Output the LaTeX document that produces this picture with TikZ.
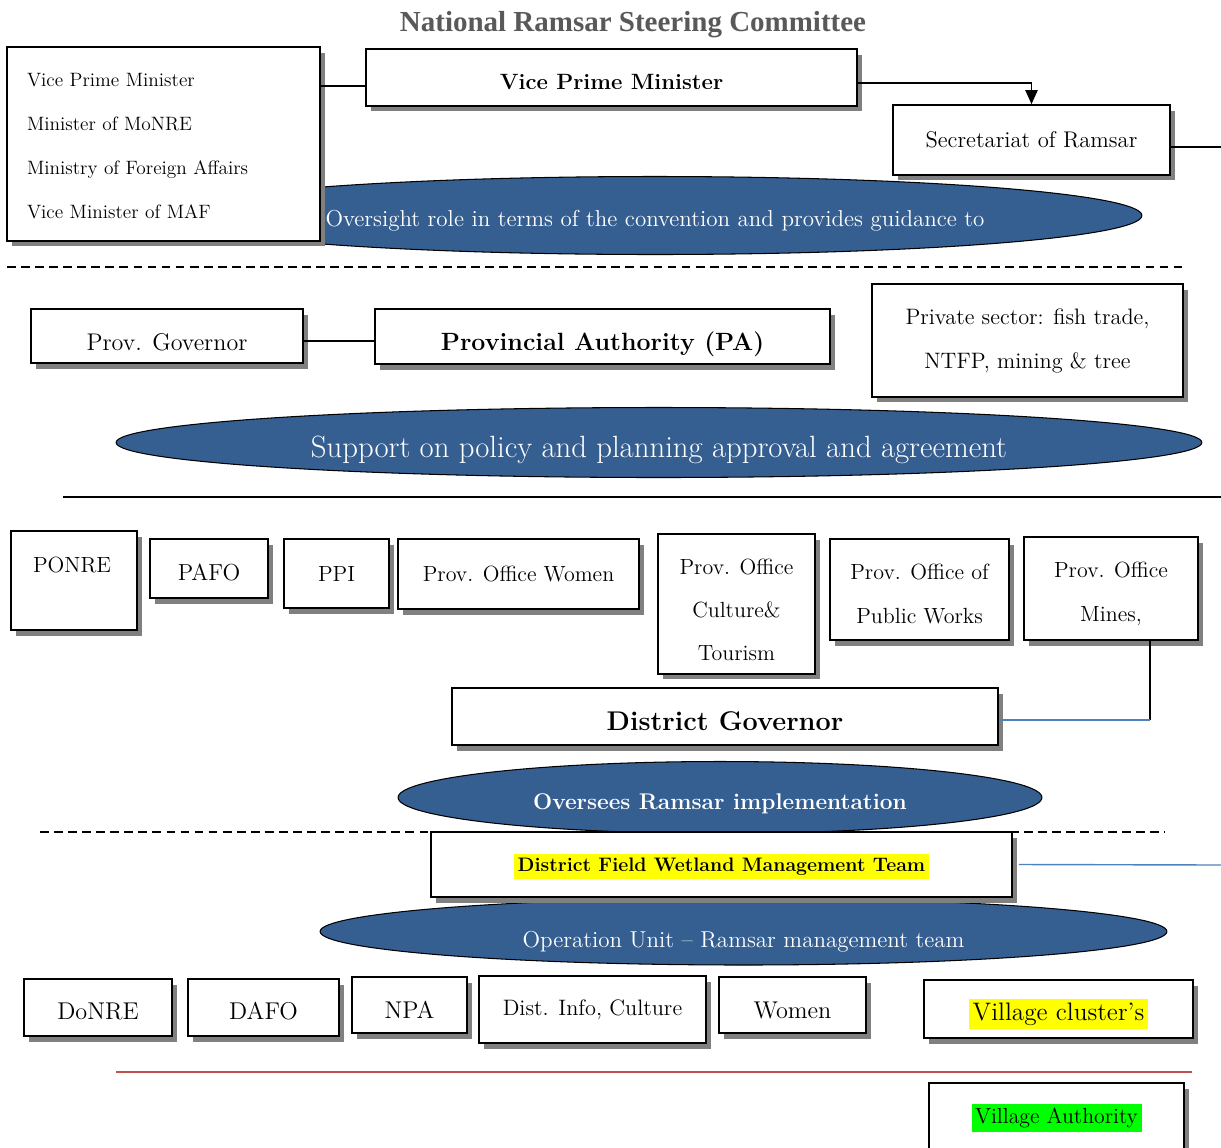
\documentclass[tikz,border=0pt]{standalone}
\usepackage{fontspec}
\newfontfamily\titlefont{Liberation Serif}
\usetikzlibrary{shapes.geometric,shadows,arrows.meta}
\definecolor{ovalblue}{RGB}{54,95,145}
\definecolor{shadowgray}{RGB}{128,128,128}
\definecolor{linkblue}{RGB}{79,129,189}
\definecolor{rulered}{RGB}{192,80,77}
\definecolor{hiyellow}{RGB}{255,255,0}
\definecolor{higreen}{RGB}{0,255,0}
\setlength{\fboxsep}{2pt}
\newcommand{\padtop}[1]{\rule{0pt}{#1}}
\begin{document}
\begin{tikzpicture}[x=0.02cm, y=-0.02cm,
    orgbox/.style={draw, line width=1pt, fill=white, inner sep=0pt, align=center,
      drop shadow={shadow xshift=0.1cm, shadow yshift=-0.11cm, fill=shadowgray, opacity=1}},
    oval/.style={ellipse, draw, line width=0.6pt, fill=ovalblue, text=white, inner sep=0pt},
    dashrule/.style={dash pattern=on 5pt off 3pt, line width=0.8pt}]
      \useasboundingbox (0,0) rectangle (1221,1147);

      % national level
      \node[font=\titlefont\bfseries\fontsize{16.5}{20}\selectfont, text=black!65] (title) at (633,25) {National Ramsar Steering Committee};
      \node[oval, minimum width=19.48cm, minimum height=1.56cm, font=\fontsize{13.1}{15}\selectfont] (oversight) at (655,215.5) {\padtop{14.7pt}Oversight role in terms of the convention and provides guidance to};
      \node[orgbox, minimum width=6.26cm, minimum height=3.88cm, text width=5.46cm, align=left, font=\fontsize{11}{25}\selectfont] (members) at (163.5,144) {\padtop{9.8pt}Vice Prime Minister\\Minister of MoNRE\\Ministry of Foreign Affairs\\Vice Minister of MAF};
      \node[orgbox, minimum width=9.82cm, minimum height=1.14cm, font=\bfseries\fontsize{12.6}{15}\selectfont] (vpm) at (611.5,77.5) {\padtop{14.3pt}Vice Prime Minister};
      \node[orgbox, minimum width=5.54cm, minimum height=1.40cm, font=\fontsize{12.9}{15}\selectfont] (sec) at (1031.5,140) {Secretariat of Ramsar};
      \coordinate (vpmin) at ([yshift=-0.17cm]vpm.west);
      \coordinate (vpmout) at ([yshift=-0.11cm]vpm.east);
      \coordinate (secout) at (1221,147);

      \draw[line width=0.8pt] (vpmin -| members.east) -- (vpmin);
      \draw[line width=0.8pt, -{Triangle[length=8pt, width=7pt]}] (vpmout) -| (sec.north);
      \draw[line width=0.8pt] (sec.east |- secout) -- (secout);

      \draw[dashrule] (7,267) -- (1183,267);

      % provincial level
      \node[oval, minimum width=21.72cm, minimum height=1.40cm, font=\fontsize{17.5}{19}\selectfont] (support) at (659,442.5) {\padtop{20.3pt}Support on policy and planning approval and agreement};
      \node[orgbox, minimum width=5.44cm, minimum height=1.08cm, font=\fontsize{13.7}{16}\selectfont] (provgov) at (167,336) {\padtop{16.5pt}Prov. Governor};
      \node[orgbox, minimum width=9.10cm, minimum height=1.10cm, font=\bfseries\fontsize{14.2}{17}\selectfont] (pa) at (602.5,336.5) {\padtop{19.7pt}Provincial Authority (PA)};
      \node[orgbox, minimum width=6.22cm, minimum height=2.26cm, font=\fontsize{12.7}{25}\selectfont] (priv) at (1027.5,340.5) {Private sector: fish trade,\\NTFP, mining \& tree};
      \coordinate (govlink) at ([yshift=-0.1cm]provgov.east);
      \draw[line width=0.8pt] (govlink) -- (govlink -| pa.west);

      \draw[line width=1.2pt] (63,497) -- (1221,497);

      % provincial offices
      \node[orgbox, minimum width=2.52cm, minimum height=1.98cm] (ponre) at (74,580.5) {};
      \node[font=\fontsize{12.5}{25}\selectfont] (ponrelbl) at (72,565) {PONRE};
      \node[orgbox, minimum width=2.36cm, minimum height=1.18cm, font=\fontsize{13.2}{25}\selectfont] (pafo) at (209,568.5) {\padtop{13.6pt}PAFO};
      \node[orgbox, minimum width=2.10cm, minimum height=1.38cm, font=\fontsize{12.5}{25}\selectfont] (ppi) at (336.5,573.5) {PPI};
      \node[orgbox, minimum width=4.82cm, minimum height=1.40cm, font=\fontsize{12.5}{25}\selectfont] (women) at (518.5,574) {Prov. Office Women};
      \node[orgbox, minimum width=3.14cm, minimum height=2.80cm, font=\fontsize{12.5}{24.7}\selectfont] (culture) at (736.5,604) {\padtop{15.5pt}Prov. Office\\Culture\&\\Tourism};
      \node[orgbox, minimum width=3.58cm, minimum height=2.02cm, font=\fontsize{12.5}{25}\selectfont] (works) at (919.5,589.5) {\padtop{14.3pt}Prov. Office of\\Public Works};
      \node[orgbox, minimum width=3.48cm, minimum height=2.06cm, font=\fontsize{12.5}{25}\selectfont] (mines) at (1111,588.5) {\padtop{14.4pt}Prov. Office\\Mines,};

      % district level
      \node[orgbox, minimum width=10.92cm, minimum height=1.14cm, font=\bfseries\fontsize{15.4}{18}\selectfont] (dg) at (725,716.5) {\padtop{16.2pt}District Governor};
      \coordinate (minesdrop) at (1150,720);
      \draw[line width=0.8pt] (mines.south -| minesdrop) -- (minesdrop);
      \draw[linkblue, line width=0.8pt] (minesdrop) -- (minesdrop -| dg.east);

      \node[oval, minimum width=12.88cm, minimum height=1.44cm, font=\bfseries\fontsize{12.9}{15}\selectfont] (oversees) at (720,797.5) {\padtop{15.8pt}Oversees Ramsar implementation};
      \draw[dashrule] (40,832) -- (1165,832);
      \node[oval, minimum width=16.94cm, minimum height=1.34cm, font=\fontsize{13.1}{15}\selectfont] (opunit) at (743.5,931.5) {\padtop{20.5pt}Operation Unit -- Ramsar management team};
      \node[orgbox, minimum width=11.62cm, minimum height=1.30cm, font=\bfseries\fontsize{11.1}{14}\selectfont] (dfw) at (721.5,864.5) {\padtop{11.9pt}\colorbox{hiyellow}{District Field Wetland Management Team}};
      \coordinate (dfwout) at (1221,865);
      \draw[linkblue, line width=0.8pt] ([xshift=0.12cm]dfw.east) -- (dfwout);

      % district offices
      \node[orgbox, minimum width=2.96cm, minimum height=1.14cm, font=\fontsize{13.8}{16}\selectfont] (donre) at (98,1007.5) {\padtop{14pt}DoNRE};
      \node[orgbox, minimum width=3.02cm, minimum height=1.14cm, font=\fontsize{13.8}{16}\selectfont] (dafo) at (263.5,1007.5) {\padtop{14pt}DAFO};
      \node[orgbox, minimum width=2.30cm, minimum height=1.12cm, font=\fontsize{13.8}{16}\selectfont] (npa) at (409.5,1005) {\padtop{15pt}NPA};
      \node[orgbox, minimum width=4.54cm, minimum height=1.34cm, font=\fontsize{12.7}{15}\selectfont] (distinfo) at (592.5,1009.5) {Dist. Info, Culture};
      \node[orgbox, minimum width=2.94cm, minimum height=1.12cm, font=\fontsize{13.8}{16}\selectfont] (dwomen) at (792.5,1005) {\padtop{16.2pt}Women};
      \node[orgbox, minimum width=5.38cm, minimum height=1.16cm, font=\fontsize{14.4}{17}\selectfont] (cluster) at (1058.5,1009) {\padtop{17.6pt}\colorbox{hiyellow}{Village cluster's}};

      \draw[rulered, line width=1pt] (116,1072) -- (1192,1072);

      % village level
      \node[orgbox, minimum width=5.10cm, minimum height=1.40cm, font=\fontsize{12.4}{15}\selectfont] (village) at (1056.5,1118) {\colorbox{higreen}{Village Authority}};
    \end{tikzpicture}
\end{document}
